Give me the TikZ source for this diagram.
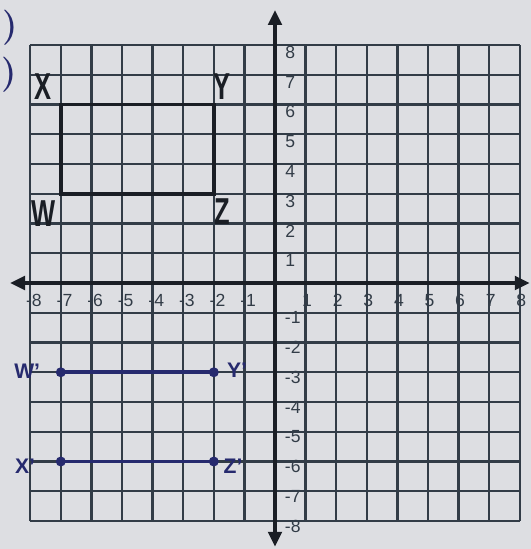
\documentclass[tikz,border=0pt]{standalone}
\usepackage{fontspec}
\setsansfont{Liberation Sans}
\usepackage{xcolor}
\usetikzlibrary{arrows.meta,positioning}
\definecolor{paper}{HTML}{DDDEE2}
\definecolor{gridgray}{HTML}{323C47}
\definecolor{pencil}{HTML}{1A1E25}
\definecolor{ink}{HTML}{262A6E}
\tikzset{%
	gridline/.style  = {gridgray, line width=2pt},
	axisline/.style  = {pencil, line width=3.2pt, -{Triangle[width=0.4cm,length=0.45cm]}},
	ticklabel/.style = {font=\sffamily\fontsize{15}{15}\selectfont, text=gridgray, inner sep=0pt},
	corner/.style    = {font=\sffamily\bfseries\fontsize{32}{32}\selectfont, text=pencil, xscale=0.68, inner sep=0pt},
	primelabel/.style= {font=\sffamily\bfseries\fontsize{18}{18}\selectfont, text=ink, inner sep=0pt},
	inkdot/.style    = {circle, fill=ink, inner sep=0pt, minimum size=0.3cm},
	rectline/.style  = {pencil, line width=3pt},
	inkline/.style   = {ink, line width=3pt},
}
\begin{document}
\begin{tikzpicture}[xscale=0.918,yscale=0.8925]
		\fill[paper] (-8.987,-8.941) rectangle (8.366,9.513);  % page
		\useasboundingbox (-8.987,-8.941) rectangle (8.366,9.513);
		\draw[gridline] (-8,-8) grid (8,8);
		% axes
		\coordinate (xl) at (-8.66,0);
		\coordinate (xr) at (8.33,0);
		\coordinate (yb) at (0,-8.87);
		\coordinate (yt) at (0,9.18);
		\draw[axisline] (0,0) -- (xl);
		\draw[axisline] (0,0) -- (xr);
		\draw[axisline] (0,0) -- (yb);
		\draw[axisline] (0,0) -- (yt);
		% tick labels
		\foreach \i in {-8,...,-1} \node[ticklabel] (xt\i) at (\i+0.12,-0.6) {\i};
		\foreach \i in {1,...,8}   \node[ticklabel] (xt\i) at (\i+0.05,-0.6) {\i};
		\foreach \i in {1,...,8}   \node[ticklabel] (yt\i) at (0.5,\i-0.25) {\i};
		\foreach \i in {-8,...,-1} \node[ticklabel] (yt\i) at (0.58,\i-0.17) {\i};
		% rectangle WXYZ
		\coordinate (W) at (-7,3);
		\coordinate (X) at (-7,6);
		\coordinate (Y) at (-2,6);
		\coordinate (Z) at (-2,3);
		\draw[rectline] (W) -- (X) -- (Y) -- (Z) -- cycle;
		\node[corner] (lX) at (-7.58,6.59) {X};
		\node[corner] (lW) at (-7.58,2.32) {W};
		\node[corner] (lY) at (-1.73,6.59) {Y};
		\node[corner] (lZ) at (-1.73,2.39) {Z};
		% image W'X'Y'Z'
		\node[inkdot] (W1) at (-7,-3) {};
		\node[inkdot] (Y1) at (-2,-3) {};
		\node[inkdot] (X1) at (-7,-6) {};
		\node[inkdot] (Z1) at (-2,-6) {};
		\draw[inkline] (W1.center) -- (Y1.center);
		\draw[inkline] (X1.center) -- (Z1.center);
		\node[primelabel] (lW1) at (-8.1,-2.98) {W'};
		\node[primelabel] (lY1) at (-1.24,-2.92) {Y'};
		\node[primelabel] (lX1) at (-8.17,-6.15) {X'};
		\node[primelabel] (lZ1) at (-1.37,-6.15) {Z'};
		% margin marks
		\node[primelabel,font=\bfseries\fontsize{30}{30}\selectfont] (p1) at (-8.66,8.57) {)};
		\node[primelabel,font=\bfseries\fontsize{30}{30}\selectfont] (p2) at (-8.7,6.99) {)};
		\end{tikzpicture}
\end{document}
